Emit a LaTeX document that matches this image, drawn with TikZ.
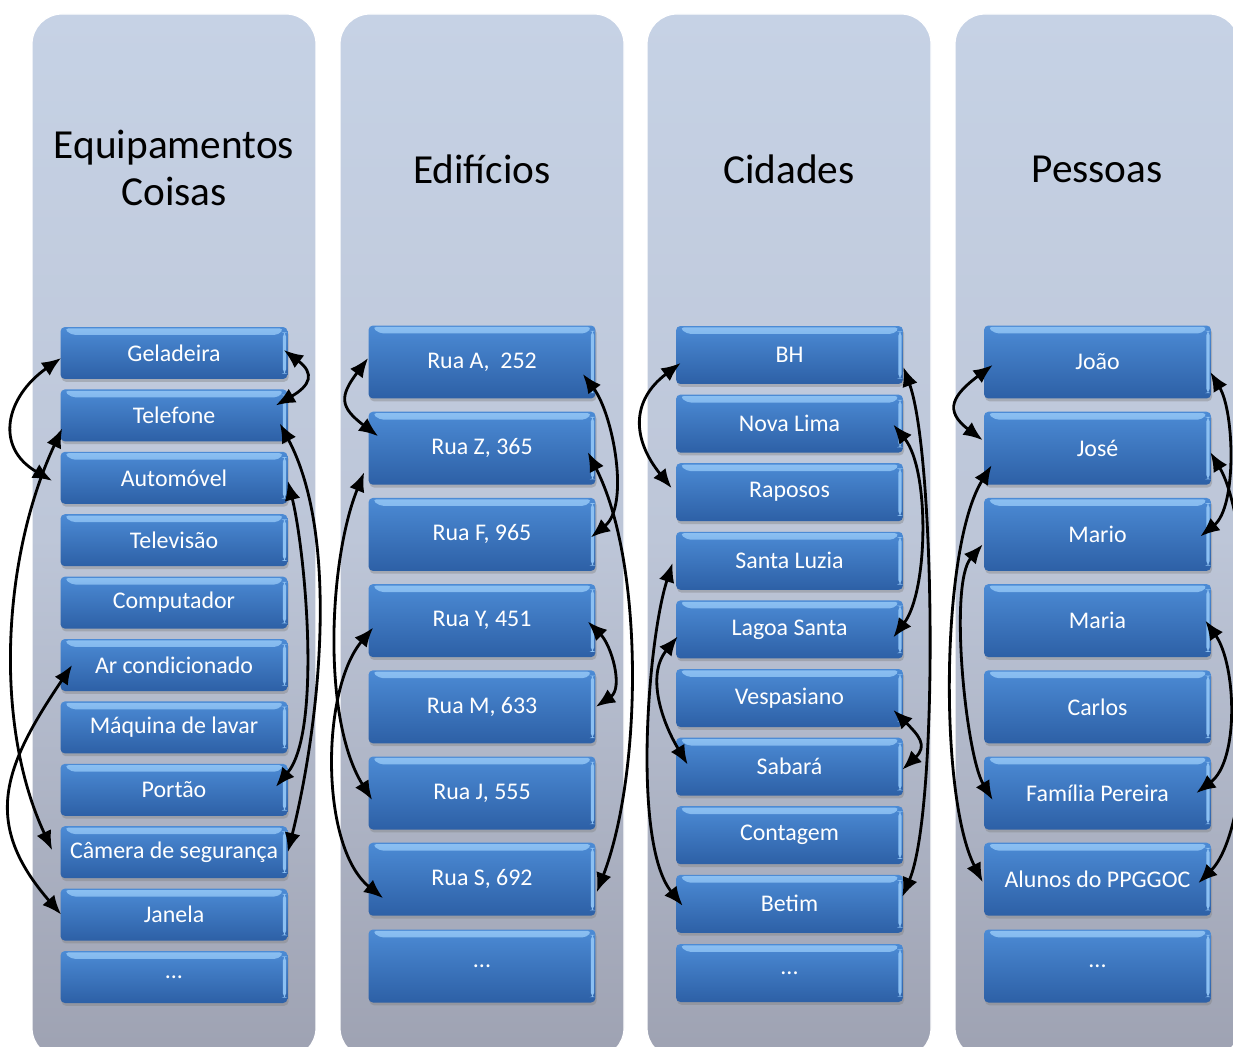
\documentclass[tikz,border=0pt]{standalone}
\usepackage{fontspec}
\setmainfont{Carlito}
\usetikzlibrary{arrows.meta,shadows}

\definecolor{panelTop}{RGB}{198,210,229}
\definecolor{panelMid}{RGB}{189,198,216}
\definecolor{panelBot}{RGB}{158,162,178}
\definecolor{boxTop}{RGB}{76,139,213}
\definecolor{boxBot}{RGB}{45,96,166}
\definecolor{boxHi}{RGB}{140,192,242}

\tikzset{
  panel/.style={rounded corners=0.6cm, top color=panelTop, bottom color=panelBot,
    middle color=panelMid, draw=white, line width=0.7pt},
  title/.style={align=center, font=\fontsize{23.5}{26.5}\selectfont},
  itembox/.style={minimum width=4.54cm, inner sep=0pt, rounded corners=2.5pt,
    top color=boxTop, bottom color=boxBot, text=white,
    font=\fontsize{13.6}{15}\selectfont,
    drop shadow={shadow xshift=0.6pt, shadow yshift=-1.6pt, opacity=0.4},
    path picture={
      \shade[top color=boxHi, bottom color=boxTop]
        ([shift={(2pt,-0.8pt)}]path picture bounding box.north west) --
        ([shift={(-2pt,-0.8pt)}]path picture bounding box.north east) --
        ([shift={(-5pt,-4.5pt)}]path picture bounding box.north east) --
        ([shift={(6pt,-4.5pt)}]path picture bounding box.north west) -- cycle;
      \fill[boxHi] ([shift={(-2.6pt,-3pt)}]path picture bounding box.north east) rectangle
        ([shift={(-0.8pt,3pt)}]path picture bounding box.south east);
    }},
  itemA/.style={itembox, minimum height=1.04cm},
  itemB/.style={itembox, minimum height=1.46cm},
  itemC/.style={itembox, minimum height=1.16cm},
  link/.style={<->, >={Latex[length=11pt,width=9pt]}, line width=1.6pt}
}

\begin{document}
\begin{tikzpicture}[x=0.02cm,y=-0.02cm]
\useasboundingbox (0,0) rectangle (1233,1047);
\clip (0,0) rectangle (1233,1047);
% panels
\path[panel] (32,14) rectangle (316,1058);
\path[panel] (340,14) rectangle (624,1058);
\path[panel] (647,14) rectangle (931,1058);
\path[panel] (955,14) rectangle (1239,1058);
\node[title] (tEquip) at (174,168) {Equipamentos\\Coisas};
\node[title] (tEdif) at (482,169) {Edifícios};
\node[title] (tCid) at (789,169) {Cidades};
\node[title] (tPess) at (1097,169) {Pessoas};
%
% equipamentos
\foreach \txt/\nm [count=\i from 0] in {Geladeira/gel,Telefone/tel,Automóvel/aut,Televisão/tv,Computador/comp,Ar condicionado/ar,Máquina de lavar/maq,Portão/port,Câmera de segurança/cam,Janela/jan}
  \node[itemA] (\nm) at (174,{353+62.4*\i}) {\txt};
\node[itemA] (eqdots) at (174,977) {...};
\draw[link] ([shift={(1,5)}]gel.west) to[out=215,in=150,looseness=1.4] ([shift={(-8,3)}]aut.west);
\draw[link] ([shift={(2,13)}]tel.west) to[out=245,in=115,looseness=0.85] ([shift={(-8,-2)}]cam.west);
\draw[link] ([shift={(12,0)}]ar.west) to[out=236,in=131,looseness=1.25] ([shift={(1,0)}]jan.west);
\draw[link] ([shift={(-4,-3)}]gel.east) to[out=323,in=30,looseness=1.8] ([shift={(-12,-10)}]tel.east);
\draw[link] ([shift={(-8,8)}]tel.east) to[out=298,in=76,looseness=0.77] (cam.east);
\draw[link] ([shift={(0,3)}]aut.east) to[out=284,in=50,looseness=0.6] ([shift={(-12,-3)}]port.east);
%
% edificios
\foreach \txt/\nm [count=\i from 0] in {{Rua A,~ 252}/ruaA,{Rua Z, 365}/ruaZ,{Rua F, 965}/ruaF,{Rua Y, 451}/ruaY,{Rua M, 633}/ruaM,{Rua J, 555}/ruaJ,{Rua S, 692}/ruaS}
  \node[itemB] (\nm) at (482,{362+86.2*\i}) {\txt};
\node[itemB] (eddots) at (482,966) {...};
\draw[link] ([shift={(0,-4)}]ruaA.west) to[out=233,in=143,looseness=1.56] ([shift={(10,-12)}]ruaZ.west);
\draw[link] ([shift={(-4,24)}]ruaZ.west) to[out=248,in=122,looseness=0.74] ([shift={(4,7)}]ruaJ.west);
\draw[link] ([shift={(5,7)}]ruaY.west) to[out=230,in=141,looseness=0.77] ([shift={(15,19)}]ruaS.west);
\draw[link] ([shift={(-13,12)}]ruaA.east) to[out=307,in=39,looseness=0.79] ([shift={(-5,3)}]ruaF.east);
\draw[link] ([shift={(-8,4)}]ruaZ.east) to[out=297,in=69,looseness=0.73] ([shift={(1,13)}]ruaS.east);
\draw[link] ([shift={(-8,1)}]ruaY.east) to[out=315,in=34,looseness=1.0] (ruaM.east);
%
% cidades
\foreach \txt/\nm [count=\i from 0] in {BH/bh,Nova Lima/nlima,Raposos/rap,Santa Luzia/sluz,Lagoa Santa/lsanta,Vespasiano/vesp,Sabará/sab,Contagem/cont,Betim/bet}
  \node[itemC] (\nm) at (789.5,{355+68.6*\i}) {\txt};
\node[itemC] (cidots) at (789.5,973) {...};
\draw[link] ([shift={(5,8)}]bh.west) to[out=217,in=129,looseness=1.28] ([shift={(-4,-4)}]rap.west);
\draw[link] ([shift={(-3,2)}]sluz.west) to[out=252,in=129,looseness=0.6] ([shift={(7,2)}]bet.west);
\draw[link] ([shift={(2,7)}]lsanta.west) to[out=231,in=121,looseness=1.0] ([shift={(12,-2)}]sab.west);
\draw[link] ([shift={(0,12)}]bh.east) to[out=290,in=67,looseness=0.45] ([shift={(-1,-7)}]bet.east);
\draw[link] ([shift={(-10,1)}]nlima.east) to[out=309,in=53,looseness=0.7] ([shift={(-10,8)}]lsanta.east);
\draw[link] ([shift={(-10,12)}]vesp.east) to[out=315,in=43,looseness=1.5] ([shift={(-1,3)}]sab.east);
%
% pessoas
\foreach \txt/\nm [count=\i from 0] in {João/joao,José/jose,Mario/mario,Maria/maria,Carlos/carlos,Família Pereira/fam,Alunos do PPGGOC/alunos}
  \node[itemB] (\nm) at (1097.5,{362+86.2*\i}) {\txt};
\node[itemB] (pedots) at (1097.5,966) {...};
\draw[link] ([shift={(9,3)}]joao.west) to[out=217,in=143,looseness=1.67] ([shift={(-1,-8)}]jose.west);
\draw[link] ([shift={(8,17)}]jose.west) to[out=238,in=117,looseness=0.59] ([shift={(-1,3)}]alunos.west);
\draw[link] ([shift={(-1,10)}]mario.west) to[out=229,in=121,looseness=0.52] ([shift={(9,7)}]fam.west);
\draw[link] ([shift={(-1,10)}]joao.east) to[out=301,in=39,looseness=0.73] ([shift={(-11,2)}]mario.east);
\draw[link] ([shift={(-1,4)}]jose.east) to[out=301,in=45,looseness=0.53] ([shift={(-13,4)}]alunos.east);
\draw[link] ([shift={(-6,0)}]maria.east) to[out=305,in=37,looseness=0.8] ([shift={(-15,0)}]fam.east);
\end{tikzpicture}
\end{document}
